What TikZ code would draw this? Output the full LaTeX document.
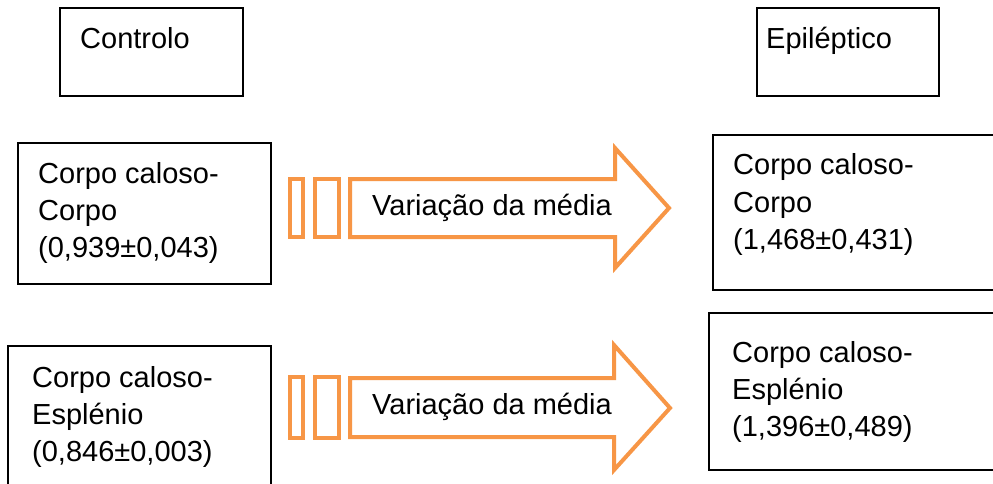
\documentclass[tikz,border=0pt]{standalone}
\usepackage{fontspec}
\setmainfont{Liberation Sans}
\definecolor{arrorange}{HTML}{F79646}
\begin{document}
\begin{tikzpicture}[x=1pt,y=-1pt,
  box/.style={draw=black,line width=1.5pt,rectangle,inner sep=0pt},
  txt/.style={anchor=base west,inner sep=0pt,font=\fontsize{29}{37}\selectfont,text=black},
  orangeshape/.style={draw=arrorange,line width=4pt,line join=miter,fill=white}]
\clip (0,0) rectangle (993,484);
% header boxes
\node[box,minimum width=183pt,minimum height=88pt] (ctl) at (151.5,52) {};
\node[box,minimum width=182pt,minimum height=88pt] (epi) at (848,52) {};
\node[txt] (ctlt) at (80,49) {Controlo};
\node[txt] (epit) at (766,49) {Epiléptico};
% row 1 boxes
\node[box,minimum width=253pt,minimum height=141pt] (l1) at (144.5,213.5) {};
\node[txt] (l1a) at (38,183) {Corpo caloso-};
\node[txt] (l1b) at (38,220) {Corpo};
\node[txt] (l1c) at (38,257) {(0,939±0,043)};
\node[box,minimum width=300pt,minimum height=155pt] (r1) at (863,212.5) {};
\node[txt] (r1a) at (733,175) {Corpo caloso-};
\node[txt] (r1b) at (733,212) {Corpo};
\node[txt] (r1c) at (733,249) {(1,468±0,431)};
% row 2 boxes
\node[box,minimum width=263pt,minimum height=160pt] (l2) at (139.5,426) {};
\node[txt] (l2a) at (32,387) {Corpo caloso-};
\node[txt] (l2b) at (32,424) {Esplénio};
\node[txt] (l2c) at (32,461) {(0,846±0,003)};
\node[box,minimum width=300pt,minimum height=157pt] (r2) at (859,391.5) {};
\node[txt] (r2a) at (732,362) {Corpo caloso-};
\node[txt] (r2b) at (732,399) {Esplénio};
\node[txt] (r2c) at (732,436) {(1,396±0,489)};
% arrow 1
\draw[orangeshape] (290,179) rectangle (303,237);
\draw[orangeshape] (315,179) rectangle (339,237);
\draw[orangeshape] (350,179) -- (615,179) -- (615,148) -- (669,208) -- (615,268) -- (615,237) -- (350,237) -- cycle;
\node[txt] (a1t) at (372,215) {Variação da média};
% arrow 2
\draw[orangeshape] (290,377) rectangle (303,438);
\draw[orangeshape] (315,377) rectangle (339,438);
\draw[orangeshape] (350,378) -- (614,378) -- (614,345) -- (670,408) -- (614,470) -- (614,437) -- (350,437) -- cycle;
\node[txt] (a2t) at (372,414) {Variação da média};
\end{tikzpicture}
\end{document}
